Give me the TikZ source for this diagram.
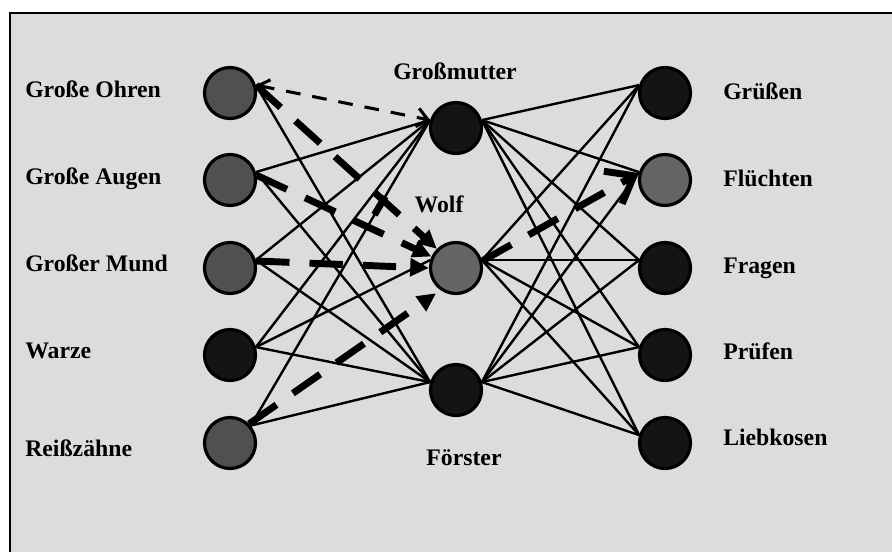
\documentclass[tikz,border=0pt]{standalone}
\usepackage{fontspec}
\setmainfont{Liberation Serif}
\usetikzlibrary{arrows.meta,calc}
\definecolor{bg}{HTML}{DCDCDC}
\definecolor{featgray}{HTML}{505050}
\definecolor{actgray}{HTML}{646464}
\definecolor{nodeblack}{HTML}{141414}
\begin{document}
\begin{tikzpicture}[x=0.75pt,y=-0.75pt,
  unit/.style={circle,draw=black,line width=2.4pt,minimum size=38.25pt,inner sep=0pt},
  feat/.style={unit,fill=featgray},
  act/.style={unit,fill=actgray},
  idle/.style={unit,fill=nodeblack},
  lbl/.style={font=\fontsize{17.8pt}{20pt}\selectfont\bfseries,inner sep=0pt},
  link/.style={line width=1.8pt},
  weak/.style={line width=2.3pt,dash pattern=on 11pt off 9pt},
  strong/.style={line width=5.2pt,dash pattern=on 25pt off 15pt},
  tri/.style={-{Triangle[length=14pt,width=13pt]}}]
\useasboundingbox (0,0) rectangle (892,551);
\fill[white] (0,0) rectangle (892,551);
\draw[fill=bg,line width=2pt] (10,13) rectangle (910,570);
% left column
\node[feat] (L1) at (230,93) {};
\node[feat] (L2) at (230,180) {};
\node[feat] (L3) at (230,268) {};
\node[idle] (L4) at (230,355) {};
\node[feat] (L5) at (230,443) {};
% middle column
\node[idle] (G) at (456,128) {};
\node[act]  (W) at (456,268) {};
\node[idle] (F) at (456,390) {};
% right column
\node[idle] (R1) at (665,93) {};
\node[act]  (R2) at (665,180) {};
\node[idle] (R3) at (665,268) {};
\node[idle] (R4) at (665,355) {};
\node[idle] (R5) at (665,443) {};
% labels
\node[lbl,anchor=base west] (tL1) at (25,97) {Große Ohren};
\node[lbl,anchor=base west] (tL2) at (25,184) {Große Augen};
\node[lbl,anchor=base west] (tL3) at (25,271) {Großer Mund};
\node[lbl,anchor=base west] (tL4) at (25,358) {Warze};
\node[lbl,anchor=base west] (tL5) at (25,456) {Reißzähne};
\node[lbl,anchor=base] (tG) at (455,79) {Großmutter};
\node[lbl,anchor=base] (tW) at (439,212) {Wolf};
\node[lbl,anchor=base] (tF) at (464,465) {Förster};
\node[lbl,anchor=base west] (tR1) at (723,99) {Grüßen};
\node[lbl,anchor=base west] (tR2) at (723,186) {Flüchten};
\node[lbl,anchor=base west] (tR3) at (723,273) {Fragen};
\node[lbl,anchor=base west] (tR4) at (723,359) {Prüfen};
\node[lbl,anchor=base west] (tR5) at (723,445) {Liebkosen};
% solid links left - middle
\draw[link] (L1.17) -- (F.163);
\draw[link] (L2.17) -- (G.163);
\draw[link] (L2.17) -- (F.163);
\draw[link] (L3.17) -- (G.163);
\draw[link] (L3.17) -- (F.163);
\draw[link] (L4.17) -- (G.163);
\draw[link] (L4.17) -- (W.163);
\draw[link] (L4.17) -- (F.163);
\draw[link] (L5.40) -- (G.163);
\draw[link] (L5.40) -- (F.163);
% solid links middle - right
\foreach \m in {G,F}{
  \foreach \r in {R1,R2,R3,R4,R5}{
    \draw[link] (\m.17) -- (\r.163);
  }
}
\foreach \r in {R1,R3,R4,R5}{
  \draw[link] (W.17) -- (\r.163);
}
% activation arrows
\draw[weak,{Straight Barb[length=8pt,width=12pt]}-{Straight Barb[length=8pt,width=14pt]}] (L1.17) -- (G.163);
\draw[strong,tri] (L1.17) -- (W.135);
\draw[strong,tri] (L2.10) -- (W.155);
\draw[strong,tri] (L3.15) -- (W.180);
\draw[strong,tri,shorten >=4pt] (L5.45) -- (W.235);
\draw[strong,-{Straight Barb[length=18pt,width=28pt]}] (W.15) -- (R2.165);
\draw[line width=5.2pt] ($(G.163)!0.25!(L5.40)$) -- ($(G.163)!0.31!(L5.40)$);
\end{tikzpicture}
\end{document}
